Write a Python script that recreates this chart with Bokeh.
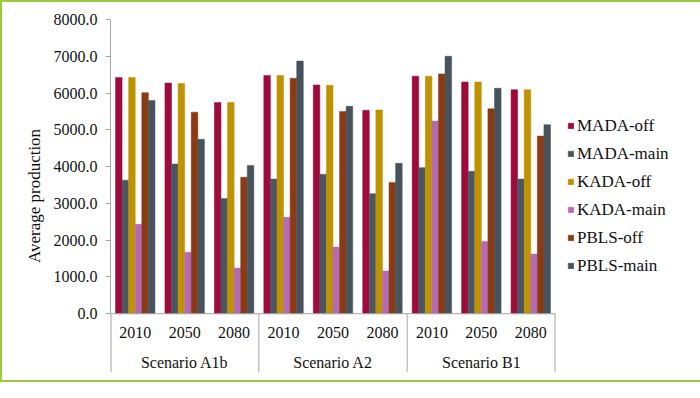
from bokeh.plotting import figure
from bokeh.models import (FactorRange, ColumnDataSource, NumeralTickFormatter, FixedTicker,
                          Legend, LegendItem, Span)
from bokeh.transform import dodge
from bokeh.core.properties import value
from bokeh.embed import file_html
from bokeh.resources import INLINE

# ---------------- data ----------------
scenarios = ["Scenario A1b", "Scenario A2", "Scenario B1"]
years = ["2010", "2050", "2080"]
series_names = ["MADA-off", "MADA-main", "KADA-off", "KADA-main", "PBLS-off", "PBLS-main"]
series_colors = ["#9E0B3B", "#4A5661", "#BE9200", "#B56AB3", "#8A3B13", "#46525C"]

mada_off = [6420, 6270, 5740, 6480, 6220, 5530, 6460, 6300, 6090]
mada_main = [3630, 4070, 3130, 3660, 3790, 3260, 3970, 3870, 3660]
kada_off = [6420, 6260, 5740, 6480, 6210, 5540, 6460, 6300, 6090]
kada_main = [2430, 1670, 1240, 2620, 1810, 1160, 5240, 1960, 1620]
pbls_off = [6010, 5480, 3710, 6400, 5500, 3570, 6520, 5570, 4830]
pbls_main = [5800, 4740, 4030, 6870, 5640, 4090, 7000, 6130, 5140]

y_ticks = [0, 1000, 2000, 3000, 4000, 5000, 6000, 7000, 8000]

series_values = [mada_off, mada_main, kada_off, kada_main, pbls_off, pbls_main]

# ---------------- build ----------------
factors = [(s, y) for s in scenarios for y in years]
data = {"x": factors}
keys = ["s%d" % i for i in range(len(series_names))]
for k, vals in zip(keys, series_values):
    data[k] = vals
source = ColumnDataSource(data)

FONT = "Liberation Serif"
Y_BOTTOM = -1600
Y_TOP = 8000

x_range = FactorRange(*factors, group_padding=0, factor_padding=0, range_padding=0)
p = figure(x_range=x_range, y_range=(Y_BOTTOM, Y_TOP),
           width=680, height=378, output_backend="svg", toolbar_location=None,
           min_border_left=108, min_border_top=17, min_border_bottom=8, min_border_right=10)
p.frame_width = 445
p.frame_height = 353
p.styles = {"border": "2px solid #9BCB3C"}

p.xaxis.visible = False
p.xgrid.grid_line_color = None
p.ygrid.grid_line_color = None
p.outline_line_color = None
p.background_fill_color = "white"
p.border_fill_color = "white"

ax = p.yaxis[0]
ax.ticker = FixedTicker(ticks=y_ticks)
ax.formatter = NumeralTickFormatter(format="0.0")
ax.bounds = (0, Y_TOP)
ax.axis_line_color = "#A6A6A6"
ax.major_tick_line_color = "#A6A6A6"
ax.major_tick_out = 5
ax.major_tick_in = 0
ax.minor_tick_line_color = None
ax.major_label_text_font = FONT
ax.major_label_text_font_size = "16px"
ax.major_label_text_color = "#111111"
ax.major_label_standoff = 8
ax.axis_label = "Average production"
ax.axis_label_text_font = FONT
ax.axis_label_text_font_size = "17px"
ax.axis_label_text_font_style = "normal"
ax.axis_label_text_color = "#111111"
ax.axis_label_standoff = 7

# bars
n = len(series_names)
bar_w = 0.133
items = []
for i, (k, name, col) in enumerate(zip(keys, series_names, series_colors)):
    off = (i - (n - 1) / 2) * bar_w
    r = p.vbar(x=dodge("x", off, range=p.x_range), top=k, bottom=0, width=bar_w,
               source=source, fill_color=col, line_color=col, line_width=0.5)
    items.append(LegendItem(label=name, renderers=[r]))

# baseline
p.add_layout(Span(location=0, dimension="width", line_color="#A6A6A6", line_width=1))

# category separators (scenario boundaries) below the baseline
bounds_x = [i * len(years) for i in range(len(scenarios) + 1)]
widths = [2 if (b == bounds_x[0] or b == bounds_x[-1]) else 1 for b in bounds_x]
p.segment(x0=bounds_x, y0=[0] * len(bounds_x), x1=bounds_x, y1=[Y_BOTTOM] * len(bounds_x),
          line_color="#A6A6A6", line_width=widths)

# year labels and scenario labels
p.text(x=factors, y=[-500] * len(factors), text=[f[1] for f in factors],
       text_font=value(FONT), text_font_size="16px", text_align="center",
       text_baseline="middle", text_color="#111111")
p.text(x=[(s, years[1]) for s in scenarios], y=[-1330] * len(scenarios), text=scenarios,
       text_font=value(FONT), text_font_size="16px", text_align="center",
       text_baseline="middle", text_color="#111111")

legend = Legend(items=items, location="center_left",
                label_text_font=FONT, label_text_font_size="17px", label_text_color="#111111",
                glyph_width=7, glyph_height=7, label_height=20, spacing=8,
                label_standoff=3, padding=0, margin=12, border_line_color=None,
                background_fill_alpha=0)
p.add_layout(legend, "right")

open("out.html", "w").write(file_html(p, INLINE))
